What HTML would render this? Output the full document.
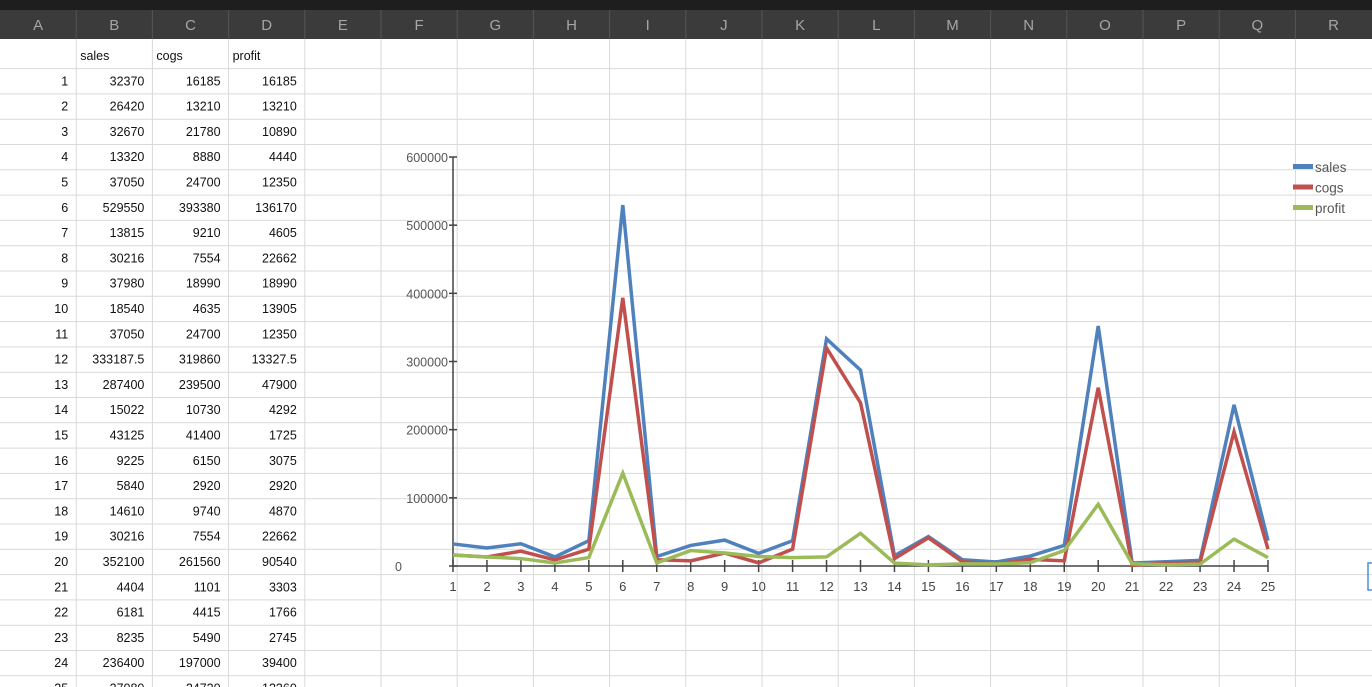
<!DOCTYPE html>
<html><head><meta charset="utf-8"><style>
body{margin:0;width:1372px;height:687px;overflow:hidden;background:#fff;font-family:"Liberation Sans",sans-serif;}
svg{display:block}
</style></head><body>
<svg id="s" width="1372" height="687"></svg>
<script>
const categories=[1,2,3,4,5,6,7,8,9,10,11,12,13,14,15,16,17,18,19,20,21,22,23,24,25];
const sales=[32370,26420,32670,13320,37050,529550,13815,30216,37980,18540,37050,333187.5,287400,15022,43125,9225,5840,14610,30216,352100,4404,6181,8235,236400,37080];
const cogs=[16185,13210,21780,8880,24700,393380,9210,7554,18990,4635,24700,319860,239500,10730,41400,6150,2920,9740,7554,261560,1101,4415,5490,197000,24720];
const profit=[16185,13210,10890,4440,12350,136170,4605,22662,18990,13905,12350,13327.5,47900,4292,1725,3075,2920,4870,22662,90540,3303,1766,2745,39400,12360];
const yTicks=[0,100000,200000,300000,400000,500000,600000];
const seriesNames=["sales","cogs","profit"];
const colors=["#4f81bd","#c0504d","#9bbb59"];
const colLetters=["A","B","C","D","E","F","G","H","I","J","K","L","M","N","O","P","Q","R"];

const s=document.getElementById('s');
const NS="http://www.w3.org/2000/svg";
function el(t,a,txt){const e=document.createElementNS(NS,t);for(const k in a)e.setAttribute(k,a[k]);if(txt!==undefined)e.textContent=txt;s.appendChild(e);return e;}
const colW=76.2, rowH=25.3;
function rowC(i){return 56+rowH*i;}
// grid
for(let c=1;c<18;c++){const l=el('line',{x1:c*colW,y1:39,x2:c*colW,y2:687,stroke:'#d9d9d9'});

}
for(let i=0;i<26;i++){const y=rowC(i)+12.6;const l=el('line',{x1:0,y1:y,x2:1372,y2:y,stroke:'#d9d9d9'});

}
// header
let h=el('rect',{x:0,y:0,width:1372,height:39,fill:'#3b3b3b'});


el('rect',{x:0,y:0,width:1372,height:10,fill:'#1e1e1e'});
colLetters.forEach((L,c)=>{
 if(c>0)el('line',{x1:c*colW,y1:10,x2:c*colW,y2:39,stroke:'#555'});
 const t=el('text',{x:c*colW+colW/2,y:30,'text-anchor':'middle','font-size':15,fill:'#a6a6a6'},L);
 
 
});
// table
const fs={'font-size':12.5,fill:'#111'};
["sales","cogs","profit"].forEach((n,k)=>{const t=el('text',Object.assign({x:(k+1)*colW+4,y:rowC(0)+4},fs),n);

});
categories.forEach((c,i)=>{
 const y=rowC(i+1)+4;
 const vals=[c,sales[i],cogs[i],profit[i]];
 vals.forEach((v,k)=>{const t=el('text',Object.assign({x:(k+1)*colW-8,y:y,'text-anchor':'end'},fs),String(v));
 
 });
});
// chart
const x0=453,y0=566,yScale=v=>y0-v*(409/600000),xScale=c=>x0+(c-1)*(815/24);
el('rect',{x:380,y:140,width:990,height:460,fill:'none'});
let ax=el('line',{x1:x0,y1:yScale(600000),x2:x0,y2:y0,stroke:'#444','stroke-width':1.5});


let xa=el('line',{x1:x0,y1:y0,x2:xScale(25),y2:y0,stroke:'#444','stroke-width':1.5});


yTicks.forEach(v=>{const y=yScale(v);el('line',{x1:x0-4,y1:y,x2:x0+4,y2:y,stroke:'#444','stroke-width':1.5});
const t=el('text',{x:v===0?402:x0-5,y:y+5,'text-anchor':v===0?'end':'end','font-size':12.5,fill:'#555'},String(v));

});
categories.forEach(c=>{const x=xScale(c);el('line',{x1:x,y1:y0-6,x2:x,y2:y0+6,stroke:'#444','stroke-width':1.5});
const t=el('text',{x:x,y:y0+25,'text-anchor':'middle','font-size':13,fill:'#444'},String(c));

});
[sales,cogs,profit].forEach((arr,k)=>{
 const p=el('polyline',{points:arr.map((v,i)=>xScale(categories[i])+','+yScale(v)).join(' '),fill:'none',stroke:colors[k],'stroke-width':3.5,'stroke-linejoin':'miter'});
 
 
});
// reorder so sales drawn first, then cogs, then profit (already)
seriesNames.forEach((n,k)=>{const y=167+k*20.5;
 const r=el('rect',{x:1293,y:y-3,width:20,height:5,fill:colors[k]});
 
 
 const t=el('text',{x:1315,y:y+5,'font-size':13.5,fill:'#555'},n);
 
 
});
let sel=el('rect',{x:1368,y:563,width:6,height:27,fill:'none',stroke:'#4a90e2','stroke-width':1.5});


</script>
</body></html>
